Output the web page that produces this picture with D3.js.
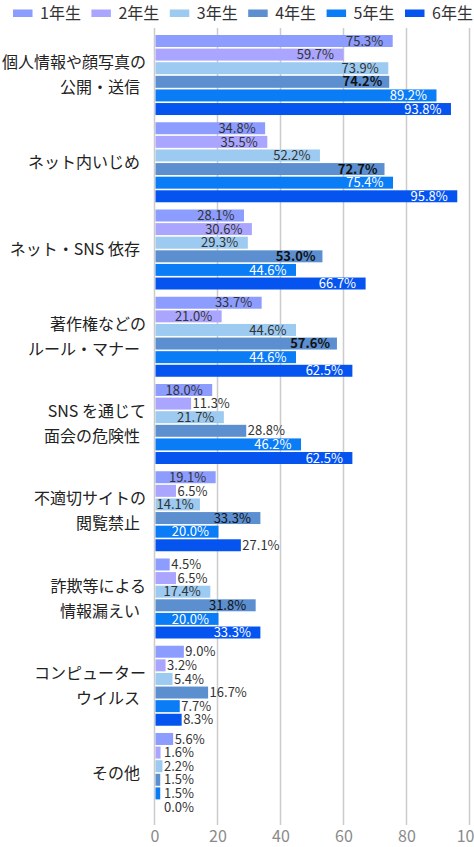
<!DOCTYPE html>
<html>
<head>
<meta charset="utf-8">
<script src="https://cdn.jsdelivr.net/npm/d3@7"></script>
<style>
  body { margin: 0; background: #fff; }
  svg { display: block; font-family: "Noto Sans CJK JP", "Noto Sans", sans-serif; }
</style>
</head>
<body>
<svg id="chart" width="474" height="847"></svg>
<script>
// Data
var categories = [
    ["個人情報や顔写真の", "公開・送信"],
    ["ネット内いじめ"],
    ["ネット・SNS 依存"],
    ["著作権などの", "ルール・マナー"],
    ["SNS を通じて", "面会の危険性"],
    ["不適切サイトの", "閲覧禁止"],
    ["詐欺等による", "情報漏えい"],
    ["コンピューター", "ウイルス"],
    ["その他"]
];
var grades = ["1年生", "2年生", "3年生", "4年生", "5年生", "6年生"];
var grade1 = [75.3, 34.8, 28.1, 33.7, 18.0, 19.1, 4.5, 9.0, 5.6];
var grade2 = [59.7, 35.5, 30.6, 21.0, 11.3, 6.5, 6.5, 3.2, 1.6];
var grade3 = [73.9, 52.2, 29.3, 44.6, 21.7, 14.1, 17.4, 5.4, 2.2];
var grade4 = [74.2, 72.7, 53.0, 57.6, 28.8, 33.3, 31.8, 16.7, 1.5];
var grade5 = [89.2, 75.4, 44.6, 44.6, 46.2, 20.0, 20.0, 7.7, 1.5];
var grade6 = [93.8, 95.8, 66.7, 62.5, 62.5, 27.1, 33.3, 8.3, 0.0];
var xTicks = [0, 20, 40, 60, 80, 100];

var series = [grade1, grade2, grade3, grade4, grade5, grade6];
var colors = ["#8c9cff", "#aaa6ff", "#9ccaf0", "#5b8fd0", "#0a7cf5", "#0654f0"];
var labelInk = ["#333", "#333", "#333", "#111", "#fff", "#fff"];
// labels that sit past the bar end even though the bar is long (category-grade)
var forcedOutside = {"4-3": true, "5-5": true, "7-3": true};

var svg = d3.select("#chart");
var catIdx = d3.range(categories.length);

var x = d3.scaleLinear().domain([0, 100]).range([155, 470]);
var y = d3.scaleBand().domain(catIdx).range([31, 817])
    .paddingInner(0.083).paddingOuter(0.046);
var yInner = d3.scaleBand().domain(d3.range(grades.length))
    .range([0, y.bandwidth()]).paddingInner(0.12);

// Grid lines
svg.append("g").selectAll("line")
    .data(xTicks).enter().append("line")
    .attr("x1", function(d) { return x(d) - 0.5; })
    .attr("x2", function(d) { return x(d) - 0.5; })
    .attr("y1", 28).attr("y2", 825)
    .style("stroke", "#cccccc").style("stroke-width", 1.5);

// Tick labels
svg.append("g").selectAll("text")
    .data(xTicks).enter().append("text")
    .attr("x", function(d) { return x(d); })
    .attr("y", 842)
    .attr("text-anchor", "middle")
    .style("font-size", "16px").style("fill", "#8a8a8a")
    .text(function(d) { return d; });

// Bars
var groups = svg.append("g").selectAll("g")
    .data(catIdx).enter().append("g")
    .attr("transform", function(c) { return "translate(0," + y(c) + ")"; });

groups.selectAll("rect")
    .data(function(c) { return series.map(function(s, g) { return {c: c, g: g, v: s[c]}; }); })
    .enter().append("rect")
    .attr("x", x(0) + 0.5)
    .attr("y", function(d) { return yInner(d.g); })
    .attr("width", function(d) { return Math.max(0, x(d.v) - x(0)); })
    .attr("height", yInner.bandwidth())
    .attr("fill", function(d) { return colors[d.g]; });

// Value labels
groups.selectAll("text")
    .data(function(c) { return series.map(function(s, g) { return {c: c, g: g, v: s[c]}; }); })
    .enter().append("text")
    .attr("y", function(d) { return yInner(d.g) + yInner.bandwidth() / 2; })
    .attr("dy", "0.36em")
    .style("font-size", "13px")
    .text(function(d) { return d.v.toFixed(1) + "%"; })
    .each(function(d) {
        var t = d3.select(this), w = this.getComputedTextLength();
        var end = x(d.v);
        var inside = d.v >= 14 && !forcedOutside[d.c + "-" + d.g];
        if (inside) {
            t.attr("x", Math.max(x(0) + 1.5, end - 9 - w))
             .style("fill", labelInk[d.g])
             .style("font-weight", (d.g === 3 && d.v > 50) ? 600 : 400);
        } else {
            t.attr("x", Math.max(end + 2, 164)).style("fill", "#333");
        }
    });

// Category labels
svg.append("g").selectAll("text")
    .data(catIdx).enter().append("text")
    .style("font-size", "16px").style("fill", "#222")
    .attr("text-anchor", "end")
    .each(function(c) {
        var lines = categories[c], t = d3.select(this);
        var mid = y(c) + y.bandwidth() / 2;
        lines.forEach(function(l, i) {
            var last = i === lines.length - 1;
            t.append("tspan")
                .attr("x", last ? 140 : 146)
                .attr("y", mid + (i - (lines.length - 1) / 2) * 25)
                .attr("dy", "0.35em")
                .text(l);
        });
    });

// Legend
var legend = svg.append("g").selectAll("g")
    .data(grades).enter().append("g")
    .attr("transform", function(d, i) { return "translate(" + (13 + i * 78.4) + ",0)"; });
legend.append("rect")
    .attr("x", 0).attr("y", 9.5).attr("width", 19.5).attr("height", 7.5)
    .attr("fill", function(d, i) { return colors[i]; });
legend.append("text")
    .attr("x", 27).attr("y", 19)
    .style("font-size", "16px").style("fill", "#333")
    .text(function(d) { return d; });
</script>
</body>
</html>
